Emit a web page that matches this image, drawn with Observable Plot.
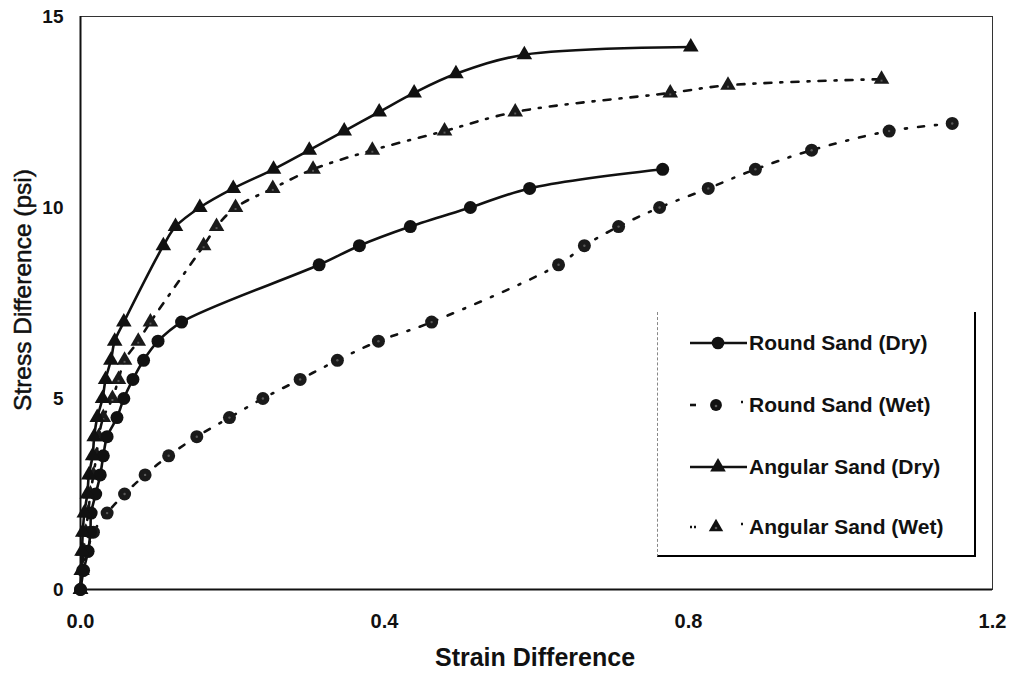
<!DOCTYPE html>
<html>
<head>
<meta charset="utf-8">
<script src="https://cdn.jsdelivr.net/npm/d3@7"></script>
<script src="https://cdn.jsdelivr.net/npm/@observablehq/plot@0.6"></script>
<style>
  body { margin: 0; background: #fff; }
  #wrap { position: relative; width: 1013px; height: 677px; font-family: "Liberation Sans", Arial, sans-serif; }
  .lab { position: absolute; color: #111; white-space: nowrap; }
  #legend { position: absolute; left: 657px; top: 312px; width: 316px; height: 243px;
            border-left: 1px dashed #888; border-right: 2px solid #000; border-bottom: 2px solid #000; background: #fff; }
  .row { position: absolute; left: 0; height: 30px; display: flex; align-items: center; }
  .row span { font-size: 21px; font-weight: bold; color: #111; }
</style>
</head>
<body>
<div id="wrap"></div>
<script>
// ---- data (strain difference, stress difference in psi) ----
const seriesNames = ["Round Sand (Dry)", "Round Sand (Wet)", "Angular Sand (Dry)", "Angular Sand (Wet)"];

const roundDryX = [0, 0.004, 0.010, 0.013, 0.014, 0.020, 0.026, 0.030, 0.035, 0.048, 0.057, 0.069, 0.083, 0.102, 0.133, 0.314, 0.367, 0.434, 0.513, 0.591, 0.766];
const roundDryY = [0, 0.5, 1, 1.5, 2, 2.5, 3, 3.5, 4, 4.5, 5, 5.5, 6, 6.5, 7, 8.5, 9, 9.5, 10, 10.5, 11];

const roundWetX = [0, 0.003, 0.009, 0.017, 0.035, 0.058, 0.085, 0.116, 0.153, 0.196, 0.240, 0.289, 0.338, 0.392, 0.462, 0.629, 0.663, 0.708, 0.762, 0.826, 0.888, 0.962, 1.064, 1.147];
const roundWetY = [0, 0.5, 1, 1.5, 2, 2.5, 3, 3.5, 4, 4.5, 5, 5.5, 6, 6.5, 7, 8.5, 9, 9.5, 10, 10.5, 11, 11.5, 12, 12.2];

const angDryX = [0, 0.001, 0.002, 0.003, 0.005, 0.009, 0.011, 0.016, 0.018, 0.022, 0.029, 0.033, 0.040, 0.045, 0.057, 0.109, 0.125, 0.157, 0.201, 0.254, 0.301, 0.347, 0.393, 0.439, 0.494, 0.584, 0.803];
const angDryY = [0, 0.5, 1, 1.5, 2, 2.5, 3, 3.5, 4, 4.5, 5, 5.5, 6, 6.5, 7, 9, 9.5, 10, 10.5, 11, 11.5, 12, 12.5, 13, 13.5, 14, 14.2];

const angWetX = [0, 0.002, 0.004, 0.007, 0.010, 0.013, 0.017, 0.021, 0.024, 0.030, 0.042, 0.050, 0.058, 0.076, 0.092, 0.162, 0.179, 0.204, 0.253, 0.306, 0.384, 0.479, 0.572, 0.776, 0.852, 1.054];
const angWetY = [0, 0.5, 1, 1.5, 2, 2.5, 3, 3.5, 4, 4.5, 5, 5.5, 6, 6.5, 7, 9, 9.5, 10, 10.5, 11, 11.5, 12, 12.5, 13, 13.2, 13.36];

const xTicks = [0, 0.4, 0.8, 1.2];
const yTicks = [0, 5, 10, 15];

// ---- build ----
const toRows = (xs, ys) => xs.map((x, i) => ({x, y: ys[i]}));
const roundDry = toRows(roundDryX, roundDryY);
const roundWet = toRows(roundWetX, roundWetY);
const angDry = toRows(angDryX, angDryY);
const angWet = toRows(angWetX, angWetY);

const ink = "#111";
const wetDash = "6,11,2,11";
const angWetDash = "7,9,2,9";
const speck = "#5a5a5a";

const chart = Plot.plot({
  width: 1013,
  height: 677,
  marginLeft: 80,
  marginRight: 21,
  marginTop: 16,
  marginBottom: 88,
  style: {fontFamily: "'Liberation Sans', Arial, sans-serif", fontWeight: "bold", fontSize: "19px", color: ink, background: "#fff"},
  x: {domain: [0, 1.2]},
  y: {domain: [0, 15]},
  marks: [
    Plot.frame({stroke: "#333", strokeWidth: 1}),
    Plot.ruleX([0], {stroke: ink, strokeWidth: 2}),
    Plot.ruleY([0], {stroke: ink, strokeWidth: 2}),
    Plot.axisX({ticks: xTicks, tickFormat: d3.format(".1f"), tickSize: 0, tickPadding: 24, label: null, fontSize: 20}),
    Plot.axisY({ticks: yTicks, tickSize: 0, tickPadding: 17, label: null, fontSize: 19}),
    Plot.line(roundWet, {x: "x", y: "y", stroke: ink, strokeWidth: 2.6, strokeDasharray: wetDash, curve: "catmull-rom"}),
    Plot.line(angWet, {x: "x", y: "y", stroke: ink, strokeWidth: 2.6, strokeDasharray: angWetDash, curve: "catmull-rom"}),
    Plot.line(roundDry, {x: "x", y: "y", stroke: ink, strokeWidth: 2.6, curve: "catmull-rom"}),
    Plot.line(angDry, {x: "x", y: "y", stroke: ink, strokeWidth: 2.6, curve: "catmull-rom"}),
    Plot.dot(roundWet, {x: "x", y: "y", r: 6.5, fill: "#1a1a1a", stroke: "none", symbol: "circle"}),
    Plot.dot(roundWet, {x: "x", y: "y", r: 1.2, fill: speck, stroke: "none", symbol: "circle"}),
    Plot.dot(angWet, {x: "x", y: "y", r: 5.8, fill: "#1a1a1a", stroke: "none", symbol: "triangle"}),
    Plot.dot(angWet, {x: "x", y: "y", r: 1.1, fill: speck, stroke: "none", symbol: "square", dy: 1.5}),
    Plot.dot(roundDry, {x: "x", y: "y", r: 6.5, fill: ink, stroke: "none", symbol: "circle"}),
    Plot.dot(angDry, {x: "x", y: "y", r: 5.8, fill: ink, stroke: "none", symbol: "triangle"})
  ]
});

const wrap = document.getElementById("wrap");
wrap.appendChild(chart);

const xl = document.createElement("div");
xl.className = "lab";
xl.textContent = "Strain Difference";
xl.style.fontSize = "25px"; xl.style.fontWeight = "bold";
xl.style.left = "535px"; xl.style.top = "657px"; xl.style.transform = "translate(-50%,-50%)";
wrap.appendChild(xl);

const yl = document.createElement("div");
yl.className = "lab";
yl.textContent = "Stress Difference (psi)";
yl.style.fontSize = "24.5px"; yl.style.fontWeight = "normal"; yl.style.webkitTextStroke = "0.5px #111";
yl.style.left = "23px"; yl.style.top = "290px"; yl.style.transform = "translate(-50%,-50%) rotate(-90deg)";
wrap.appendChild(yl);

// ---- legend ----
const legend = document.createElement("div");
legend.id = "legend";
wrap.appendChild(legend);
const legendDefs = [
  {name: seriesNames[0], wet: false, sym: "circle", top: 16},
  {name: seriesNames[1], wet: true, sym: "circle", top: 78},
  {name: seriesNames[2], wet: false, sym: "triangle", top: 140},
  {name: seriesNames[3], wet: true, sym: "triangle", top: 200}
];
for (const d of legendDefs) {
  const row = document.createElement("div");
  row.className = "row";
  row.style.top = d.top + "px";
  const svg = d3.create("svg").attr("width", 91).attr("height", 30);
  if (!d.wet) {
    svg.append("line").attr("x1", 32).attr("x2", 89).attr("y1", 15).attr("y2", 15).attr("stroke", ink).attr("stroke-width", 2.6);
  } else {
    svg.append("line").attr("x1", 32).attr("x2", 38).attr("y1", 15).attr("y2", 15).attr("stroke", ink).attr("stroke-width", 2.6)
       .attr("stroke-dasharray", d.sym === "circle" ? null : "2,2");
    svg.append("line").attr("x1", 83).attr("x2", 85).attr("y1", 12).attr("y2", 12).attr("stroke", ink).attr("stroke-width", 2.6);
  }
  const sym = d.sym === "circle" ? d3.symbolCircle : d3.symbolTriangle;
  const size = d.sym === "circle" ? (d.wet ? 110 : 125) : (d.wet ? 90 : 106);
  svg.append("path").attr("d", d3.symbol(sym, size)()).attr("transform", `translate(${d.wet ? 58 : 60},15)`).attr("fill", ink);
  if (d.wet) svg.append("circle").attr("cx", 58).attr("cy", 16).attr("r", 1.3).attr("fill", speck);
  row.appendChild(svg.node());
  const t = document.createElement("span");
  t.textContent = d.name;
  row.appendChild(t);
  legend.appendChild(row);
}
</script>
</body>
</html>
